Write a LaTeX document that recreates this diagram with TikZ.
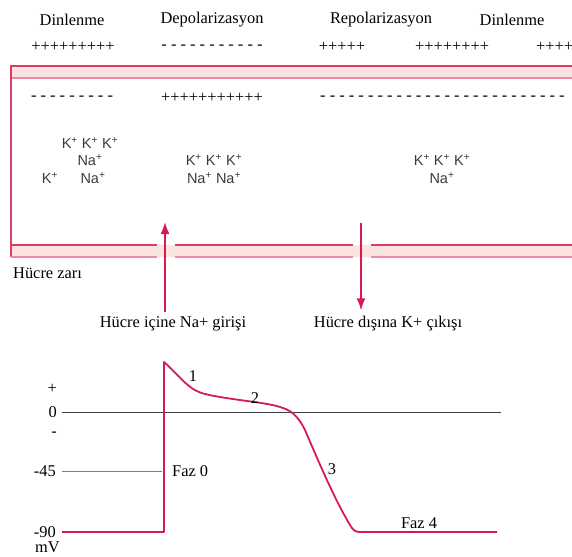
\documentclass[tikz,border=0pt]{standalone}
\usepackage{fontspec}
\setmainfont{Liberation Serif}
\newfontfamily\ionfont{Liberation Sans}
\usetikzlibrary{positioning,arrows.meta}
\definecolor{zar}{HTML}{DA3D68}
\definecolor{zarlight}{HTML}{EB8CA3}
\definecolor{zarfill}{HTML}{FBE3DF}
\definecolor{ok}{HTML}{D51B52}
\definecolor{iongray}{HTML}{3C3C3C}
\begin{document}
\begin{tikzpicture}[x=1pt,y=-1pt, every node/.style={font=\fontsize{16.4}{18}\selectfont, inner sep=0},
  ion/.style={font=\ionfont\fontsize{14.5}{16}\selectfont, text=iongray, align=center},
  pot/.style={ok, line width=1.8pt, line join=round},
  flow/.style={ok, line width=1.8pt, -{Latex[length=12pt,width=9pt]}}]
\useasboundingbox (0,0) rectangle (572,556);
% phases and charges outside
\path (72,20) node (d1) {Dinlenme} (212,20) node (dp) {Depolarizasyon} (381,20) node (rp) {Repolarizasyon} (512,20) node (d2) {Dinlenme}
(73,47) node (o1) {+++++++++} (212,47) node (o2) {- - - - - - - - - - -} (342,47) node (o3) {+++++} (452,47) node (o4) {++++++++} (536,47) node[anchor=west] (o5) {++++}
(72,98) node (i1) {- - - - - - - - -} (212,98) node (i2) {+++++++++++} (320,98) node[anchor=west] (i3) {- - - - - - - - - - - - - - - - - - - - - - - - - -};
% membrane
\fill[zarfill] (11,66) rectangle (572,78) (11,245) rectangle (572,257);
\draw[zar, line width=1.4pt] (572,66) -- (11,66) -- (11,257);
\draw[zarlight, line width=1.8pt] (12,78) -- (572,78);
\foreach \a/\b in {11/157, 175/353, 371/572} {
  \draw[zar, line width=1.4pt] (\a,245) -- (\b,245);
  \draw[zarlight, line width=1.6pt] (\a,257) -- (\b,257);
}
\node[anchor=west] (zar) at (13,273) {Hücre zarı};
% ions
\path (90,143) node[ion] (k1) {K\textsuperscript{+} K\textsuperscript{+} K\textsuperscript{+}}
(90,160) node[ion] (n1) {Na\textsuperscript{+}}
(50,178) node[ion] (k2) {K\textsuperscript{+}}
(93,178) node[ion] (n2) {Na\textsuperscript{+}}
(214,160) node[ion] (k3) {K\textsuperscript{+} K\textsuperscript{+} K\textsuperscript{+}}
(214,178) node[ion] (n3) {Na\textsuperscript{+} Na\textsuperscript{+}}
(442,160) node[ion] (k4) {K\textsuperscript{+} K\textsuperscript{+} K\textsuperscript{+}}
(442,178) node[ion] (n4) {Na\textsuperscript{+}};
% ion flow
\coordinate (naU) at (165,222);
\coordinate (kU) at (361,223);
\node (na) at (173,324) {Hücre içine Na+ girişi};
\node (ka) at (388,324) {Hücre dışına K+ çıkışı};
\draw[flow] ([yshift=5pt]na.north -| naU) -- (naU);
\draw[flow] (kU) -- ([yshift=6pt]ka.north -| kU);
% action potential
\path (57,389) node[anchor=east] (lp) {+} (57,412) node[anchor=east] (l0) {0} (57,434) node[anchor=east] (lm) {-}
(56,471) node[anchor=east] (l45) {-45} (56,532) node[anchor=east] (l90) {-90} (60,547) node[anchor=east] (lmv) {mV};
\draw[black!75, line width=0.9pt] ([xshift=5pt]l0.east) -- (501,412);
\draw[gray, line width=0.9pt] ([xshift=6pt]l45.east) -- (162,471);
\draw[pot] ([xshift=6pt]l90.east) -- (164,532) -- (164,362)
 .. controls (180,376) and (188,390) .. (205,394)
 .. controls (230,400) and (265,402) .. (280,407)
 .. controls (290,410) and (297,414) .. (305,430)
 .. controls (320,465) and (335,500) .. (350,525)
 .. controls (353,530) and (355,532) .. (360,532) -- (497,532);
\path (193,376) node (f1) {1} (255,398) node (f2) {2} (332,469) node (f3) {3}
(172,471) node[anchor=west] (f0) {Faz 0} (419,523) node (f4) {Faz 4};
\end{tikzpicture}
\end{document}
